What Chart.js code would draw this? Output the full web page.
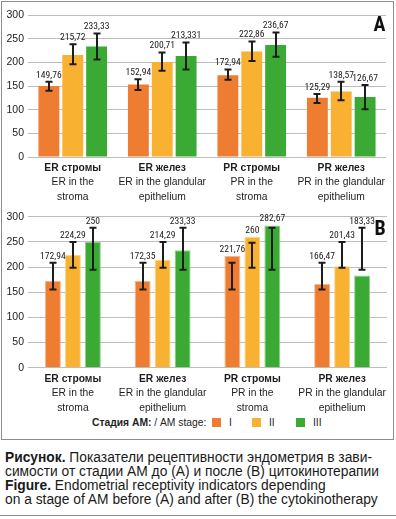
<!DOCTYPE html>
<html>
<head>
<meta charset="utf-8">
<script src="https://cdn.jsdelivr.net/npm/chart.js@4.4.1/dist/chart.umd.min.js"></script>
<style>
  html,body{margin:0;padding:0;background:#fff;}
  body{width:396px;height:519px;position:relative;overflow:hidden;font-family:'Liberation Sans',Arial,sans-serif;color:#222;}
  #frame{position:absolute;left:1px;top:1px;width:393px;height:439px;box-sizing:border-box;border:1px solid #8c8c8c;}
  canvas{position:absolute;left:0;}
  #cA{top:0;}
  #cB{top:205px;}
  .lg{position:absolute;font-size:10.3px;line-height:12px;top:417px;white-space:nowrap;color:#1e1e1e;}
  .sq{position:absolute;width:9px;height:9px;top:418px;}
  .cap{position:absolute;left:5px;font-size:13.8px;line-height:14px;white-space:nowrap;color:#1a1a1a;}
  #rule{position:absolute;left:0;top:515px;width:396px;height:1px;background:#8c8c8c;}
</style>
</head>
<body>
<div id="frame"></div>
<canvas id="cA" width="396" height="205"></canvas>
<canvas id="cB" width="396" height="212"></canvas>

<div class="lg" style="left:92px;"><b>Стадия АМ:</b> / AM stage:</div>
<div class="sq" style="left:212px;background:#EE7D31;"></div>
<div class="lg" style="left:229px;">I</div>
<div class="sq" style="left:252px;background:#F9B131;"></div>
<div class="lg" style="left:269px;">II</div>
<div class="sq" style="left:296px;background:#3AAA35;"></div>
<div class="lg" style="left:313px;">III</div>

<div class="cap" style="top:451px;"><b>Рисунок.</b> Показатели рецептивности эндометрия в зави-</div>
<div class="cap" style="top:465px;">симости от стадии АМ до (А) и после (В) цитокинотерапии</div>
<div class="cap" style="top:479px;"><b>Figure.</b> Endometrial receptivity indicators depending</div>
<div class="cap" style="top:493px;">on a stage of AM before (A) and after (B) the cytokinotherapy</div>
<div id="rule"></div>

<script>
// ---------- data ----------
const categoriesRu = ['ER стромы', 'ER желез', 'PR стромы', 'PR желез'];
const categoriesEn1 = ['ER in the', 'ER in the glandular', 'PR in the', 'PR in the glandular'];
const categoriesEn2 = ['stroma', 'epithelium', 'stroma', 'epithelium'];
const stages = ['I', 'II', 'III'];

// Panel A (before therapy)
const aStage1 = [149.76, 152.94, 172.94, 125.29];
const aStage2 = [215.72, 200.71, 222.86, 138.57];
const aStage3 = [233.33, 213.33, 236.67, 126.67];
const aLabels1 = ['149,76', '152,94', '172,94', '125,29'];
const aLabels2 = ['215,72', '200,71', '222,86', '138,57'];
const aLabels3 = ['233,33', '213,331', '236,67', '126,67'];
const aLow1 = [140, 141.5, 163, 114];
const aHigh1 = [159, 164, 185, 133];
const aLow2 = [196, 182, 203, 120];
const aHigh2 = [238, 221, 244, 159];
const aLow3 = [206, 185, 212, 101];
const aHigh3 = [261, 242, 263, 152];

// Panel B (after therapy)
const bStage1 = [172.94, 172.35, 221.76, 166.47];
const bStage2 = [224.29, 214.29, 260, 201.43];
const bStage3 = [250, 233.33, 282.67, 183.33];
const bLabels1 = ['172,94', '172,35', '221,76', '166,47'];
const bLabels2 = ['224,29', '214,29', '260', '201,43'];
const bLabels3 = ['250', '233,33', '282,67', '183,33'];
const bLow1 = [155.6, 155.6, 155.6, 155.6];
const bHigh1 = [208.6, 208.6, 208.6, 208.6];
const bLow2 = [198.7, 198.7, 198.7, 198.7];
const bHigh2 = [249.7, 249.7, 248.3, 249.7];
const bLow3 = [194.7, 194.7, 194.7, 194.7];
const bHigh3 = [278.1, 278.1, 278.1, 278.1];

const yMin = 0, yMax = 300, yStep = 50;

// ---------- styles ----------
const colors = ['#EE7D31', '#F9B131', '#3AAA35'];
const bordersB = ['#F6B58C', '#FCD58E', '#93D18E'];
const narrow = "'Liberation Sans Narrow','Roboto Condensed','DejaVu Sans Condensed',sans-serif";
const sans = "'Liberation Sans',Arial,sans-serif";

const overlay = {
  id: 'overlay',
  afterDatasetsDraw(chart, args, opts) {
    const ctx = chart.ctx;
    const y = chart.scales.y;
    const x = chart.scales.x;
    ctx.save();
    chart.data.datasets.forEach((ds, di) => {
      const meta = chart.getDatasetMeta(di);
      meta.data.forEach((bar, i) => {
        const lo = y.getPixelForValue(ds.errLow[i]);
        const hi = y.getPixelForValue(ds.errHigh[i]);
        const bx = Math.round(bar.x);
        ctx.strokeStyle = '#1c1c1c';
        ctx.lineWidth = 2;
        ctx.beginPath();
        ctx.moveTo(bx, lo); ctx.lineTo(bx, hi);
        ctx.moveTo(bx - 3.5, lo); ctx.lineTo(bx + 3.5, lo);
        ctx.moveTo(bx - 3.5, hi); ctx.lineTo(bx + 3.5, hi);
        ctx.stroke();
        ctx.font = '9.6px ' + narrow;
        ctx.fillStyle = '#1c1c1c';
        ctx.textAlign = 'center';
        ctx.textBaseline = 'middle';
        const top = Math.min(hi, y.getPixelForValue(ds.data[i]));
        ctx.fillText(ds.valueLabels[i], bar.x, top - 6.5);
      });
    });
    const bottom = chart.chartArea.bottom;
    ctx.fillStyle = '#1e1e1e';
    ctx.textAlign = 'center';
    ctx.textBaseline = 'middle';
    categoriesRu.forEach((c, i) => {
      const px = x.getPixelForValue(i);
      ctx.font = 'bold 10.3px ' + sans;
      ctx.fillText(c, px, bottom + 11);
      ctx.font = '10.3px ' + sans;
      ctx.fillText(categoriesEn1[i], px, bottom + 25.5);
      ctx.fillText(categoriesEn2[i], px, bottom + 40);
    });
    ctx.font = 'bold 20px ' + narrow;
    ctx.fillStyle = '#111';
    ctx.fillText(opts.letter, opts.lx, opts.ly);
    ctx.restore();
  }
};

function build(id, series, lows, highs, labels, padding, cp, bp, letter, lx, ly, borders) {
  const datasets = series.map((s, k) => ({
    label: stages[k],
    data: s,
    errLow: lows[k],
    errHigh: highs[k],
    valueLabels: labels[k],
    backgroundColor: colors[k],
    borderColor: borders ? borders[k] : colors[k],
    borderWidth: borders ? 1 : 0,
    categoryPercentage: cp,
    barPercentage: bp
  }));
  return new Chart(document.getElementById(id), {
    type: 'bar',
    data: { labels: categoriesRu, datasets },
    plugins: [overlay],
    options: {
      responsive: false,
      animation: false,
      devicePixelRatio: 1,
      layout: { padding },
      plugins: {
        legend: { display: false },
        tooltip: { enabled: false },
        overlay: { letter, lx, ly }
      },
      scales: {
        x: { display: false, offset: true },
        y: {
          min: yMin, max: yMax,
          ticks: { stepSize: yStep, color: '#222', font: { family: sans, size: 10.5 }, padding: 4 },
          grid: { color: '#bdbdbd', lineWidth: 1, drawTicks: false },
          border: { display: false },
          afterFit(s) { s.width = 28; }
        }
      }
    }
  });
}

build('cA', [aStage1, aStage2, aStage3], [aLow1, aLow2, aLow3], [aHigh1, aHigh2, aHigh3],
      [aLabels1, aLabels2, aLabels3], { top: 15, bottom: 48, left: 0, right: 10 },
      0.8, 0.875, 'A', 379.5, 26, null);
build('cB', [bStage1, bStage2, bStage3], [bLow1, bLow2, bLow3], [bHigh1, bHigh2, bHigh3],
      [bLabels1, bLabels2, bLabels3], { top: 11.7, bottom: 49.3, left: 0, right: 9 },
      0.668, 0.8, 'B', 380, 25, bordersB);
</script>
</body>
</html>
